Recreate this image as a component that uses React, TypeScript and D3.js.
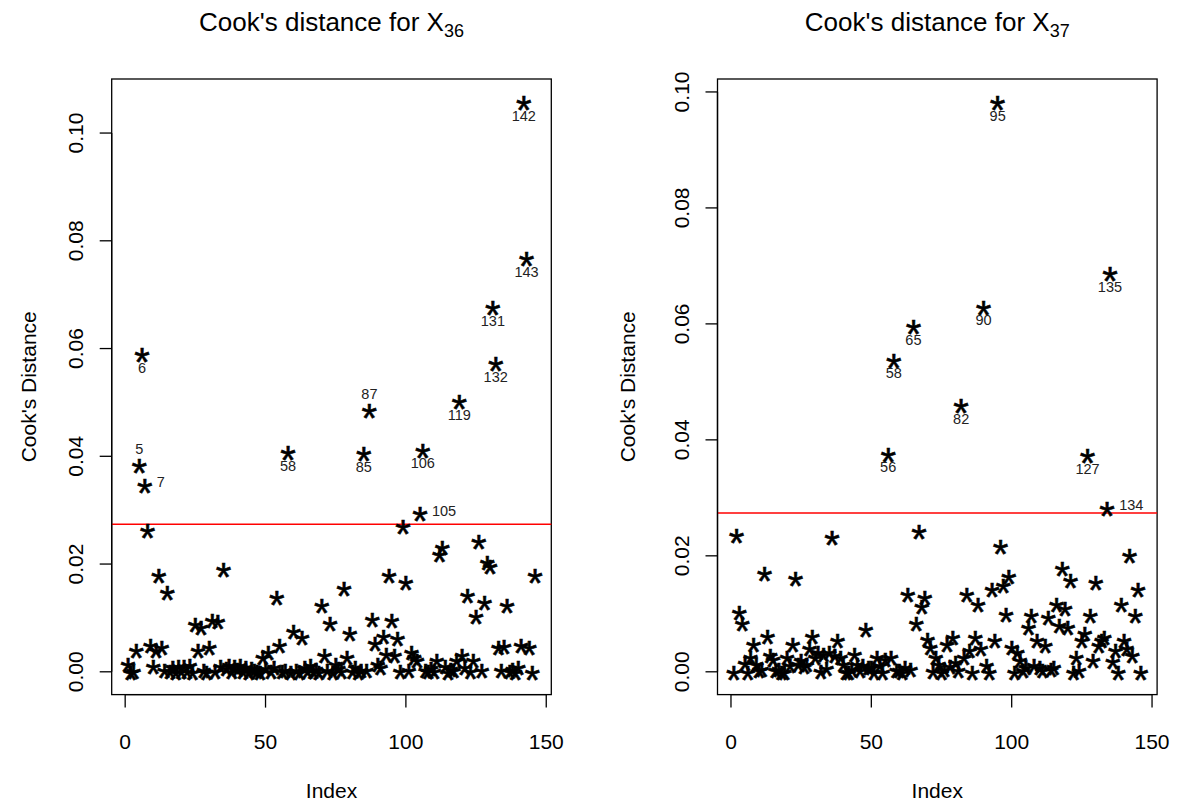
import React from "react";
import * as d3 from "d3";

const n = 146;
const indices = d3.range(1, n + 1);

// Cook's distance for X36 (index 1..146)
const cookX36 = [
  0.0016, 0.0000, 0.0003, 0.0042, 0.0384, 0.0590, 0.0348, 0.0264, 0.0050, 0.0012,
  0.0042, 0.0180, 0.0046, 0.0004, 0.0149, 0.0002, 0.0010, 0.0001, 0.0012, 0.0003,
  0.0011, 0.0002, 0.0013, 0.0000, 0.0090, 0.0042, 0.0084, 0.0005, 0.0001, 0.0046,
  0.0096, 0.0003, 0.0095, 0.0012, 0.0191, 0.0008, 0.0014, 0.0002, 0.0011, 0.0006,
  0.0013, 0.0003, 0.0009, 0.0001, 0.0007, 0.0004, 0.0002, 0.0000, 0.0028, 0.0008,
  0.0037, 0.0003, 0.0010, 0.0139, 0.0051, 0.0002, 0.0005, 0.0408, 0.0000, 0.0076,
  0.0004, 0.0001, 0.0065, 0.0009, 0.0003, 0.0013, 0.0002, 0.0006, 0.0001, 0.0124,
  0.0031, 0.0004, 0.0091, 0.0000, 0.0016, 0.0008, 0.0003, 0.0157, 0.0028, 0.0072,
  0.0002, 0.0010, 0.0001, 0.0005, 0.0406, 0.0004, 0.0486, 0.0099, 0.0054, 0.0016,
  0.0010, 0.0068, 0.0034, 0.0180, 0.0096, 0.0031, 0.0064, 0.0002, 0.0272, 0.0167,
  0.0005, 0.0037, 0.0028, 0.0022, 0.0295, 0.0413, 0.0005, 0.0002, 0.0008, 0.0003,
  0.0022, 0.0220, 0.0232, 0.0012, 0.0001, 0.0006, 0.0004, 0.0022, 0.0503, 0.0031,
  0.0009, 0.0144, 0.0002, 0.0022, 0.0105, 0.0244, 0.0004, 0.0130, 0.0204, 0.0198,
  0.0677, 0.0573, 0.0046, 0.0004, 0.0049, 0.0124, 0.0003, 0.0006, 0.0001, 0.0009,
  0.0051, 0.1058, 0.0768, 0.0046, 0.0000, 0.0181,
];

// Cook's distance for X37 (index 1..146)
const cookX37 = [
  0.0000, 0.0236, 0.0104, 0.0084, 0.0016, 0.0001, 0.0026, 0.0048, 0.0015, 0.0003,
  0.0005, 0.0171, 0.0062, 0.0029, 0.0022, 0.0004, 0.0006, 0.0001, 0.0000, 0.0026,
  0.0012, 0.0048, 0.0162, 0.0015, 0.0021, 0.0010, 0.0015, 0.0041, 0.0062, 0.0026,
  0.0035, 0.0002, 0.0032, 0.0008, 0.0035, 0.0234, 0.0030, 0.0055, 0.0026, 0.0015,
  0.0000, 0.0000, 0.0006, 0.0031, 0.0015, 0.0004, 0.0012, 0.0075, 0.0009, 0.0009,
  0.0000, 0.0026, 0.0012, 0.0000, 0.0023, 0.0377, 0.0026, 0.0539, 0.0004, 0.0003,
  0.0000, 0.0009, 0.0134, 0.0005, 0.0597, 0.0084, 0.0243, 0.0114, 0.0130, 0.0058,
  0.0044, 0.0002, 0.0026, 0.0015, 0.0000, 0.0006, 0.0049, 0.0010, 0.0061, 0.0018,
  0.0004, 0.0460, 0.0026, 0.0134, 0.0038, 0.0000, 0.0061, 0.0118, 0.0041, 0.0630,
  0.0012, 0.0000, 0.0143, 0.0055, 0.0983, 0.0217, 0.0150, 0.0100, 0.0166, 0.0044,
  0.0000, 0.0035, 0.0021, 0.0003, 0.0009, 0.0078, 0.0098, 0.0012, 0.0055, 0.0009,
  0.0003, 0.0047, 0.0095, 0.0006, 0.0009, 0.0118, 0.0081, 0.0179, 0.0110, 0.0078,
  0.0159, 0.0000, 0.0026, 0.0003, 0.0055, 0.0067, 0.0374, 0.0098, 0.0021, 0.0156,
  0.0047, 0.0055, 0.0061, 0.0284, 0.0688, 0.0020, 0.0038, 0.0000, 0.0118, 0.0055,
  0.0041, 0.0202, 0.0030, 0.0098, 0.0144, 0.0000,
];

const labelIdx36 = [5, 6, 7, 58, 85, 87, 105, 106, 119, 131, 132, 142, 143];
const labelPos36 = ["top", "bottom", "right", "bottom", "bottom", "top", "right", "bottom", "bottom", "bottom", "bottom", "bottom", "bottom"];
const labelIdx37 = [56, 58, 65, 82, 90, 95, 127, 134, 135];
const labelPos37 = ["bottom", "bottom", "bottom", "bottom", "bottom", "bottom", "bottom", "right", "bottom"];

const xTicks = [0, 50, 100, 150];
const yTicks = [0, 0.02, 0.04, 0.06, 0.08, 0.1];
const threshold = 4 / n;

const FONT = "'Liberation Sans', Arial, Helvetica, sans-serif";

type PanelProps = {
  values: number[];
  labelIdx: number[];
  labelPos: string[];
  sub: string;
  x0: number;
  x1: number;
  ylabX: number;
};

function Panel({ values, labelIdx, labelPos, sub, x0, x1, ylabX }: PanelProps) {
  const top = 79;
  const bottom = 694.6;
  const xr = n - 1;
  const x = d3.scaleLinear().domain([1 - 0.04 * xr, n + 0.04 * xr]).range([x0, x1]);
  const ymin = d3.min(values) as number;
  const ymax = d3.max(values) as number;
  const r = ymax - ymin;
  const y = d3.scaleLinear().domain([ymin - 0.04 * r, ymax + 0.04 * r]).range([bottom, top]);
  const fmt = d3.format(".2f");
  const starSize = 40;
  const cx = (x0 + x1) / 2;
  return (
    <g>
      <text x={cx} y={31} textAnchor="middle" fontFamily={FONT} fontSize={26} fill="#000">
        Cook's distance for X
        <tspan fontSize={18} dy={6}>{sub}</tspan>
      </text>
      <rect x={x0} y={top} width={x1 - x0} height={bottom - top} fill="none" stroke="#000" strokeWidth={1.3} />
      <line x1={x0} x2={x1} y1={y(threshold)} y2={y(threshold)} stroke="#ff0000" strokeWidth={1.4} />
      {/* y axis */}
      <line x1={x0} x2={x0} y1={y(yTicks[0])} y2={y(yTicks[yTicks.length - 1])} stroke="#000" strokeWidth={1.3} />
      {yTicks.map((t) => (
        <g key={"yt" + t}>
          <line x1={x0 - 12} x2={x0} y1={y(t)} y2={y(t)} stroke="#000" strokeWidth={1.3} />
          <text
            transform={`translate(${x0 - 29},${y(t)}) rotate(-90)`}
            textAnchor="middle"
            fontFamily={FONT}
            fontSize={21}
            fill="#000"
          >
            {fmt(t)}
          </text>
        </g>
      ))}
      {/* x axis */}
      <line x1={x(xTicks[0])} x2={x(xTicks[xTicks.length - 1])} y1={bottom} y2={bottom} stroke="#000" strokeWidth={1.3} />
      {xTicks.map((t) => (
        <g key={"xt" + t}>
          <line x1={x(t)} x2={x(t)} y1={bottom} y2={bottom + 13} stroke="#000" strokeWidth={1.3} />
          <text x={x(t)} y={748.5} textAnchor="middle" fontFamily={FONT} fontSize={21} fill="#000">
            {t}
          </text>
        </g>
      ))}
      <text x={cx} y={797.5} textAnchor="middle" fontFamily={FONT} fontSize={21} fill="#000">
        Index
      </text>
      <text
        transform={`translate(${ylabX},${(top + bottom) / 2}) rotate(-90)`}
        textAnchor="middle"
        fontFamily={FONT}
        fontSize={21}
        fill="#000"
      >
        Cook's Distance
      </text>
      {/* points, drawn with the "*" plotting character */}
      {indices.map((i, k) => (
        <text
          key={"p" + i}
          x={x(i)}
          y={y(values[k]) + starSize * 0.56}
          textAnchor="middle"
          fontFamily={FONT}
          fontSize={starSize}
          fill="#000"
          stroke="#000"
          strokeWidth={0.6}
        >
          *
        </text>
      ))}
      {/* labels */}
      {labelIdx.map((i, k) => {
        const px = x(i);
        const py = y(values[i - 1]);
        const pos = labelPos[k];
        let tx = px;
        let ty = py + 19;
        let anchor = "middle";
        if (pos === "top") {
          ty = py - 11;
        } else if (pos === "right") {
          tx = px + 12;
          ty = py + 3;
          anchor = "start";
        }
        return (
          <text key={"l" + i} x={tx} y={ty} textAnchor={anchor} fontFamily={FONT} fontSize={14.5} fill="#222">
            {i}
          </text>
        );
      })}
    </g>
  );
}

export default function App() {
  return (
    <svg
      width={1179}
      height={805}
      viewBox="0 0 1179 805"
      style={{ position: "absolute", left: 0, top: 0, background: "#fff" }}
    >
      <rect x={0} y={0} width={1179} height={805} fill="#fff" />
      <Panel values={cookX36} labelIdx={labelIdx36} labelPos={labelPos36} sub="36" x0={111.7} x1={551.3} ylabX={36} />
      <Panel values={cookX37} labelIdx={labelIdx37} labelPos={labelPos37} sub="37" x0={717.5} x1={1157.1} ylabX={635} />
    </svg>
  );
}
